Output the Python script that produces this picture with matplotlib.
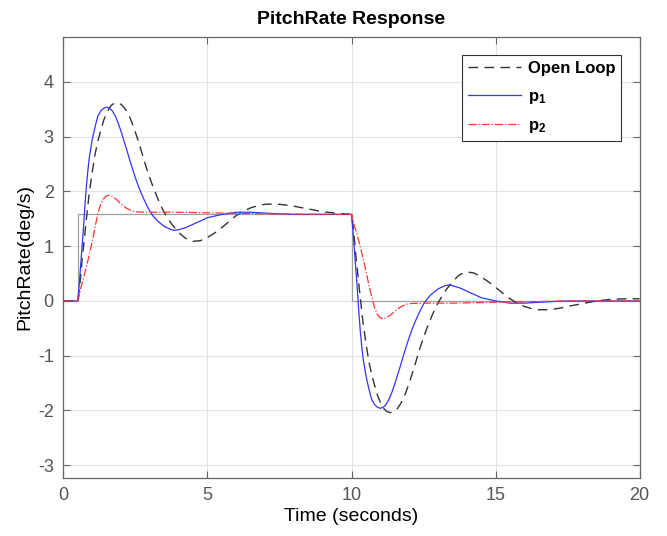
import numpy as np
import matplotlib
matplotlib.use("Agg")
import matplotlib.pyplot as plt

plt.rcParams['font.family'] = ['Liberation Sans', 'DejaVu Sans']
plt.rcParams['mathtext.fontset'] = 'custom'
plt.rcParams['mathtext.rm'] = 'Liberation Sans'
plt.rcParams['mathtext.bf'] = 'Liberation Sans:bold'
plt.rcParams['axes.unicode_minus'] = False

# reference input (step up at 0.5 s, down at 10 s)
step_t = [0, 0.5, 0.5, 10, 10, 20]
step_v = [0, 0, 1.58, 1.58, 0, 0]

# open loop response
ol_t = [0, 0.5, 0.55, 0.6, 0.65, 0.7, 0.75, 0.8, 0.9, 1.0, 1.1, 1.2, 1.3, 1.4, 1.5, 1.6, 1.7, 1.84,
        2.0, 2.1, 2.2, 2.3, 2.4, 2.5, 2.6, 2.7, 2.8, 2.9, 3.0, 3.1, 3.2, 3.3, 3.4, 3.5, 3.6, 3.75,
        4.0, 4.25, 4.5, 4.75, 5.0, 5.25, 5.5, 5.75, 6.0, 6.25, 6.5, 6.75, 7.0, 7.25, 7.5, 7.75,
        8.0, 8.5, 9.0, 9.5, 10.0,
        10.05, 10.1, 10.15, 10.2, 10.25, 10.3, 10.4, 10.5, 10.6, 10.7, 10.8, 10.9, 11.0, 11.1,
        11.2, 11.34, 11.5, 11.6, 11.7, 11.8, 11.9, 12.0, 12.1, 12.2, 12.3, 12.4, 12.5, 12.6, 12.7,
        12.8, 12.9, 13.0, 13.1, 13.25, 13.5, 13.75, 14.0, 14.25, 14.5, 14.75, 15.0, 15.25, 15.5,
        15.75, 16.0, 16.25, 16.5, 16.75, 17.0, 17.25, 17.5, 18.0, 18.5, 19.0, 19.5, 20.0]
ol_v = [0, 0, 0.2, 0.45, 0.75, 1.0, 1.25, 1.5, 1.98, 2.35, 2.68, 2.92, 3.12, 3.3, 3.43, 3.53, 3.59, 3.62,
        3.59, 3.54, 3.46, 3.36, 3.23, 3.08, 2.92, 2.75, 2.57, 2.4, 2.25, 2.1, 1.97, 1.84, 1.72, 1.62, 1.53, 1.41,
        1.25, 1.14, 1.09, 1.1, 1.16, 1.24, 1.34, 1.45, 1.56, 1.64, 1.7, 1.74, 1.765, 1.77, 1.765, 1.75,
        1.73, 1.68, 1.63, 1.6, 1.58,
        1.38, 1.13, 0.83, 0.58, 0.33, 0.08, -0.4, -0.77, -1.1, -1.34, -1.54, -1.72, -1.85, -1.95,
        -2.01, -2.04, -2.01, -1.96, -1.88, -1.78, -1.65, -1.5, -1.34, -1.17, -0.99, -0.82, -0.67, -0.52, -0.39,
        -0.26, -0.14, -0.04, 0.05, 0.18, 0.35, 0.48, 0.53, 0.51, 0.44, 0.35, 0.25, 0.14, 0.04,
        -0.04, -0.1, -0.14, -0.16, -0.16, -0.15, -0.13, -0.1, -0.05, 0.0, 0.03, 0.04, 0.04]

# p1 response
p1_t = [0, 0.5, 0.55, 0.6, 0.65, 0.7, 0.75, 0.8, 0.85, 0.9, 1.0, 1.1, 1.2, 1.3, 1.4, 1.5, 1.6, 1.7,
        1.8, 1.9, 2.0, 2.1, 2.2, 2.3, 2.4, 2.5, 2.6, 2.7, 2.8, 2.9, 3.0, 3.1, 3.25, 3.5, 3.75, 3.85,
        4.0, 4.25, 4.5, 4.75, 5.0, 5.5, 6.0, 6.5, 7.0, 7.5, 8.0, 10.0,
        10.05, 10.1, 10.15, 10.2, 10.25, 10.3, 10.35, 10.4, 10.5, 10.6, 10.7, 10.8, 10.9, 11.0,
        11.1, 11.2, 11.3, 11.4, 11.5, 11.6, 11.7, 11.8, 11.9, 12.0, 12.1, 12.2, 12.3, 12.4, 12.5,
        12.6, 12.75, 13.0, 13.25, 13.35, 13.5, 13.75, 14.0, 14.25, 14.5, 15.0, 15.5, 16.0, 16.5,
        17.0, 17.5, 20.0]
p1_v = [0, 0, 0.3, 0.65, 1.0, 1.35, 1.75, 2.1, 2.38, 2.62, 2.94, 3.18, 3.38, 3.47, 3.52, 3.54, 3.52, 3.47,
        3.38, 3.25, 3.1, 2.93, 2.76, 2.58, 2.41, 2.25, 2.1, 1.97, 1.85, 1.74, 1.64, 1.56, 1.47, 1.36, 1.3, 1.29,
        1.3, 1.34, 1.4, 1.46, 1.52, 1.58, 1.62, 1.62, 1.605, 1.59, 1.58, 1.58,
        1.28, 0.93, 0.58, 0.23, -0.17, -0.52, -0.8, -1.04, -1.36, -1.6, -1.8, -1.89, -1.94, -1.96,
        -1.94, -1.89, -1.8, -1.67, -1.52, -1.35, -1.18, -1.0, -0.83, -0.67, -0.52, -0.39, -0.27, -0.16, -0.06,
        0.02, 0.11, 0.22, 0.28, 0.29, 0.28, 0.24, 0.18, 0.12, 0.06, 0.0, -0.04, -0.04, -0.025,
        -0.01, 0.0, 0.0]

# p2 response
p2_t = [0, 0.5, 0.55, 0.6, 0.7, 0.8, 0.9, 1.0, 1.1, 1.2, 1.3, 1.4, 1.5, 1.6, 1.7, 1.85, 2.0, 2.2,
        2.4, 2.6, 3.0, 4.0, 5.0, 6.0, 7.0, 10.0,
        10.05, 10.1, 10.2, 10.3, 10.4, 10.5, 10.6, 10.7, 10.8, 10.9, 11.0, 11.1, 11.2, 11.35, 11.5,
        11.7, 11.9, 12.1, 12.5, 13.5, 14.5, 15.5, 16.5, 17.5, 20.0]
p2_v = [0, 0, 0.1, 0.23, 0.42, 0.62, 0.85, 1.08, 1.35, 1.6, 1.77, 1.87, 1.92, 1.93, 1.91, 1.85, 1.77, 1.69,
        1.64, 1.625, 1.62, 1.62, 1.61, 1.6, 1.59, 1.58,
        1.48, 1.37, 1.2, 1.0, 0.78, 0.55, 0.3, 0.08, -0.12, -0.25, -0.31, -0.33, -0.31, -0.26, -0.19,
        -0.11, -0.06, -0.045, -0.04, -0.04, -0.03, -0.02, -0.01, 0.0, 0.0]

fig = plt.figure(figsize=(6.67, 5.36), dpi=100)
ax = fig.add_axes([0.095, 0.109, 0.864, 0.822])

ax.plot(step_t, step_v, color='#a0a0a0', lw=0.9, zorder=2)
ax.plot(ol_t, ol_v, '--', color='#333333', lw=1.0, dashes=(7, 4.5), label='Open Loop', zorder=3)
ax.plot(p1_t, p1_v, '-', color='#3333ff', lw=0.9, label=r'$\mathbf{p_1}$', zorder=4)
ax.plot(p2_t, p2_v, '-.', color='#ff3333', lw=0.9, label=r'$\mathbf{p_2}$', zorder=5)

ax.set_xlim(0, 20)
ax.set_ylim(-3.225, 4.82)
ax.set_xticks([0, 5, 10, 15, 20])
ax.set_yticks([-3, -2, -1, 0, 1, 2, 3, 4])
ax.grid(True, color='#e3e3e3', lw=0.8)
ax.set_axisbelow(True)

ax.tick_params(direction='in', top=True, right=True, length=5, width=0.8,
               colors='#666666', labelcolor='#555555', labelsize=13, pad=7)
for s in ax.spines.values():
    s.set_color('#666666')
    s.set_linewidth(0.9)

ax.set_title('PitchRate Response', fontsize=14, fontweight='bold', pad=9)
ax.set_xlabel('Time (seconds)', fontsize=14, labelpad=3)
ax.set_ylabel('PitchRate(deg/s)', fontsize=14, labelpad=3)

leg = ax.legend(loc='upper right', bbox_to_anchor=(0.968, 0.958), borderaxespad=0,
                prop={'weight': 'bold', 'size': 12},
                handlelength=3.2, handletextpad=0.4, borderpad=0.35, labelspacing=0.75,
                fancybox=False, framealpha=1, edgecolor='#333333')
leg.get_frame().set_linewidth(0.8)

fig.savefig('out.png', dpi=100)
